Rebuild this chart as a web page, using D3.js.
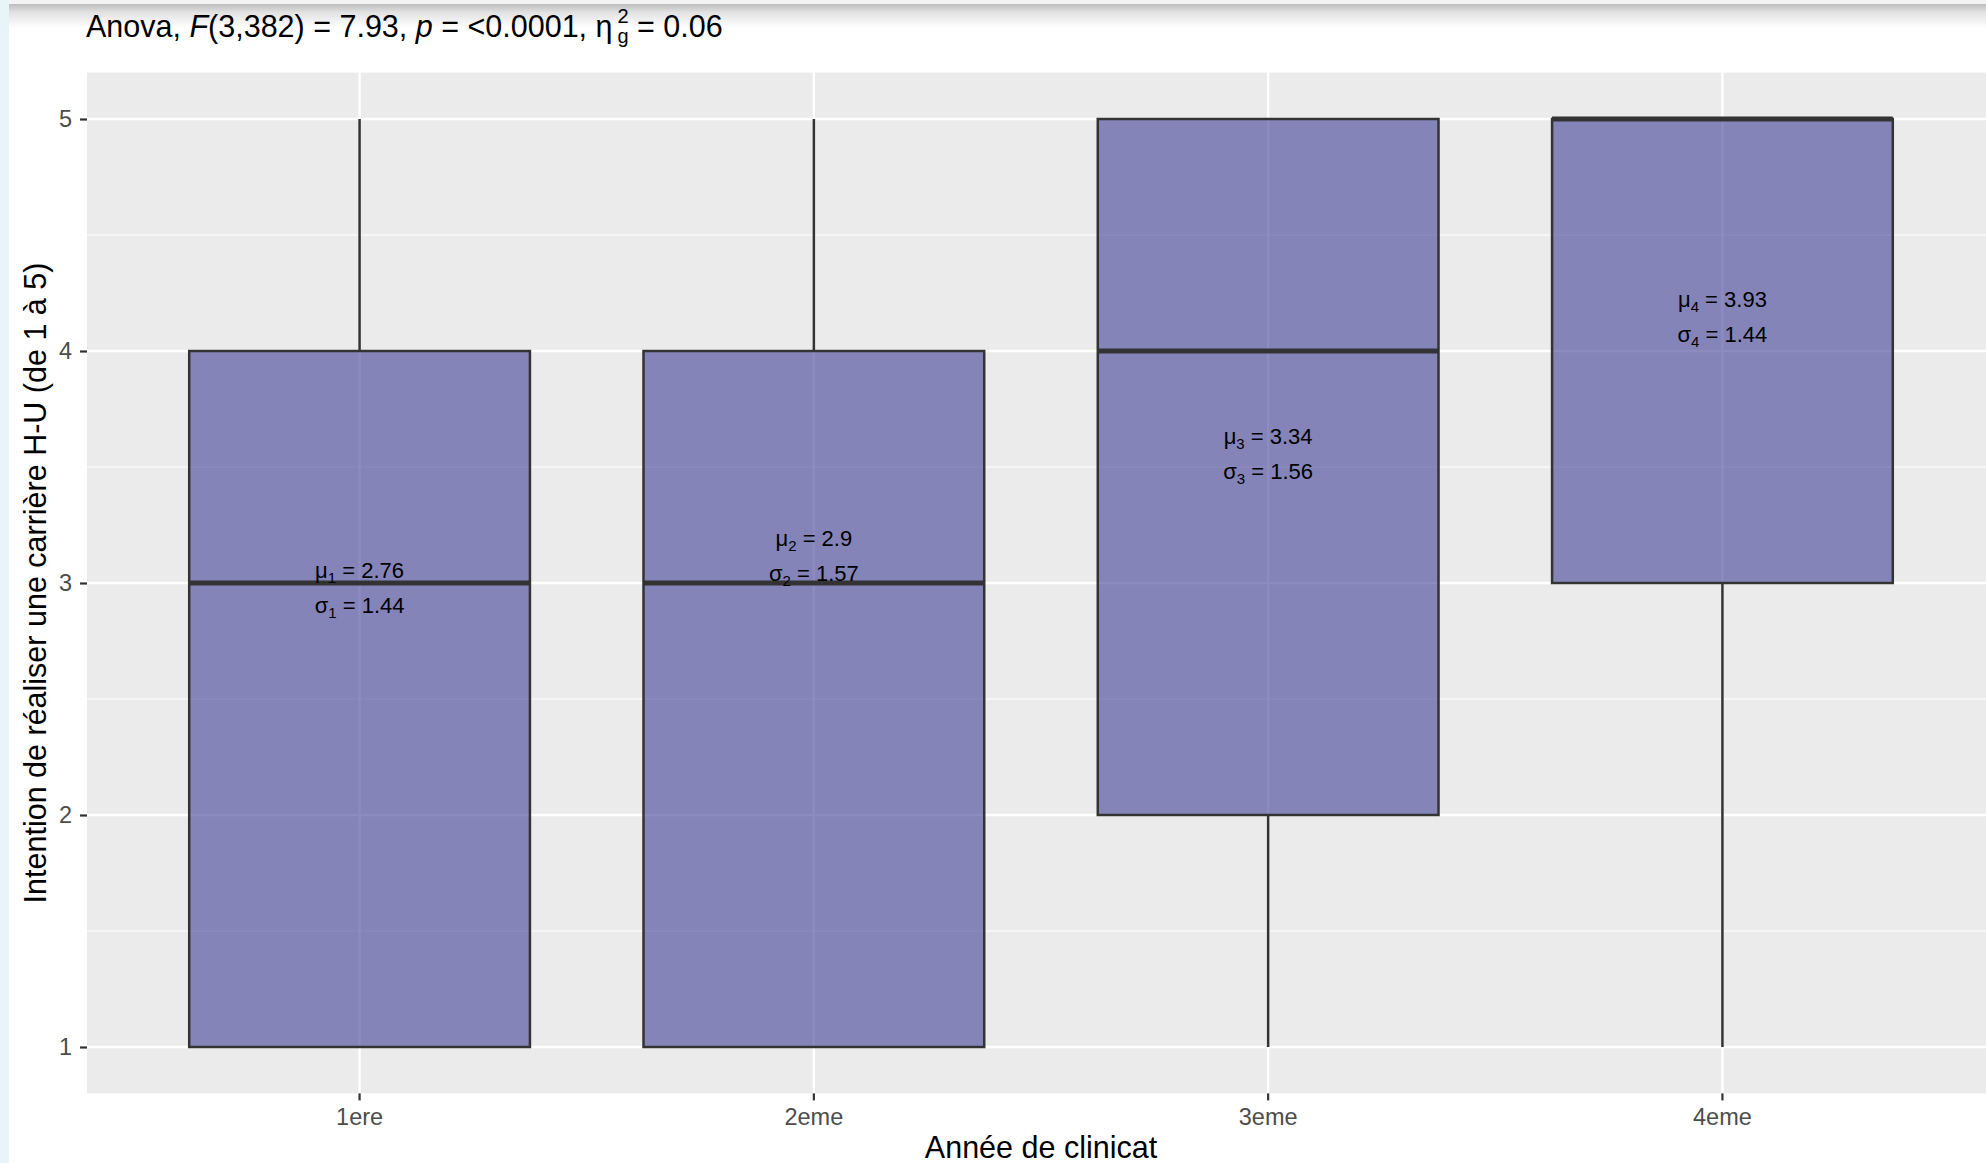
<!DOCTYPE html>
<html>
<head>
<meta charset="utf-8">
<script src="https://cdn.jsdelivr.net/npm/d3@7"></script>
<style>
  html, body { margin: 0; padding: 0; background: #ffffff; overflow: hidden; }
  svg { display: block; font-family: "Liberation Sans", Arial, Helvetica, sans-serif; }
</style>
</head>
<body>
<svg id="chart" width="1986" height="1163"></svg>
<script>
// ---------- data ----------
const categories = ["1ere", "2eme", "3eme", "4eme"];
const whiskerLow  = [1, 1, 1, 1];
const q1Values    = [1, 1, 2, 3];
const medians     = [3, 3, 4, 5];
const q3Values    = [4, 4, 5, 5];
const whiskerHigh = [5, 5, 5, 5];
const means       = [2.76, 2.9, 3.34, 3.93];
const sds         = [1.44, 1.57, 1.56, 1.44];
const meanLabels  = ["2.76", "2.9", "3.34", "3.93"];
const sdLabels    = ["1.44", "1.57", "1.56", "1.44"];
const yTicks      = [1, 2, 3, 4, 5];
const yMinor      = [1.5, 2.5, 3.5, 4.5];
const titleMain   = "Anova, ";
const xTitle      = "Année de clinicat";
const yTitle      = "Intention de réaliser une carrière H-U (de 1 à 5)";

// ---------- layout ----------
const svg = d3.select("#chart");
const W = 1986, H = 1163;
const panel = { left: 87, right: 1995, top: 72.6, bottom: 1093.4 };

// page decorations (screenshot frame)
const defs = svg.append("defs");
const grad = defs.append("linearGradient").attr("id", "topShade")
  .attr("x1", 0).attr("y1", 0).attr("x2", 0).attr("y2", 1);
grad.append("stop").attr("offset", "0%").attr("stop-color", "#bdbdbd");
grad.append("stop").attr("offset", "35%").attr("stop-color", "#e2e2e2");
grad.append("stop").attr("offset", "100%").attr("stop-color", "#ffffff");
svg.append("rect").attr("x", 0).attr("y", 0).attr("width", W).attr("height", H).attr("fill", "#ffffff");
svg.append("rect").attr("x", 9).attr("y", 0).attr("width", W).attr("height", 4).attr("fill", "#f3f3f3");
svg.append("rect").attr("x", 9).attr("y", 4).attr("width", W).attr("height", 24).attr("fill", "url(#topShade)");
svg.append("rect").attr("x", 0).attr("y", 0).attr("width", 9).attr("height", H).attr("fill", "#e8f4f7");

// scales
const x = d3.scaleBand().domain(categories)
  .range([panel.left, panel.right]).paddingInner(0).paddingOuter(0.1);
const cx = c => x(c) + x.bandwidth() / 2;
const y = d3.scaleLinear().domain([0.8, 5.2]).range([panel.bottom, panel.top]);

// panel background
svg.append("rect")
  .attr("x", panel.left).attr("y", panel.top)
  .attr("width", panel.right - panel.left).attr("height", panel.bottom - panel.top)
  .attr("fill", "#ebebeb");

const grid = svg.append("g");
grid.selectAll("line.minor").data(yMinor).join("line")
  .attr("x1", panel.left).attr("x2", panel.right)
  .attr("y1", d => y(d)).attr("y2", d => y(d))
  .attr("stroke", "#ffffff").attr("stroke-width", 1.2);
grid.selectAll("line.majy").data(yTicks).join("line")
  .attr("x1", panel.left).attr("x2", panel.right)
  .attr("y1", d => y(d)).attr("y2", d => y(d))
  .attr("stroke", "#ffffff").attr("stroke-width", 2.4);
grid.selectAll("line.majx").data(categories).join("line")
  .attr("x1", d => cx(d)).attr("x2", d => cx(d))
  .attr("y1", panel.top).attr("y2", panel.bottom)
  .attr("stroke", "#ffffff").attr("stroke-width", 2.4);

// boxes
const boxData = categories.map((c, i) => ({
  c, lo: whiskerLow[i], q1: q1Values[i], med: medians[i], q3: q3Values[i], hi: whiskerHigh[i]
}));
const bw = x.bandwidth() * 0.75;
const boxes = svg.append("g");
boxes.selectAll("line.wlo").data(boxData.filter(d => d.lo < d.q1)).join("line")
  .attr("x1", d => cx(d.c)).attr("x2", d => cx(d.c))
  .attr("y1", d => y(d.lo)).attr("y2", d => y(d.q1))
  .attr("stroke", "#333333").attr("stroke-width", 2.5);
boxes.selectAll("line.whi").data(boxData.filter(d => d.hi > d.q3)).join("line")
  .attr("x1", d => cx(d.c)).attr("x2", d => cx(d.c))
  .attr("y1", d => y(d.hi)).attr("y2", d => y(d.q3))
  .attr("stroke", "#333333").attr("stroke-width", 2.5);
boxes.selectAll("rect").data(boxData).join("rect")
  .attr("x", d => cx(d.c) - bw / 2).attr("width", bw)
  .attr("y", d => y(d.q3)).attr("height", d => y(d.q1) - y(d.q3))
  .attr("fill", "rgb(63,63,150)").attr("fill-opacity", 0.6)
  .attr("stroke", "#333333").attr("stroke-width", 2.5);
boxes.selectAll("line.med").data(boxData).join("line")
  .attr("x1", d => cx(d.c) - bw / 2).attr("x2", d => cx(d.c) + bw / 2)
  .attr("y1", d => y(d.med)).attr("y2", d => y(d.med))
  .attr("stroke", "#333333").attr("stroke-width", 5);

// mean / sd annotations
const ann = svg.append("g").attr("font-size", 22).attr("fill", "#000000").attr("text-anchor", "middle");
categories.forEach((c, i) => {
  const t1 = ann.append("text").attr("x", cx(c)).attr("y", y(means[i]) - 60.5);
  t1.append("tspan").text("μ");
  t1.append("tspan").attr("font-size", 15).attr("dy", 5).text(String(i + 1));
  t1.append("tspan").attr("dy", -5).text(" = " + meanLabels[i]);
  const t2 = ann.append("text").attr("x", cx(c)).attr("y", y(means[i]) - 25.5);
  t2.append("tspan").text("σ");
  t2.append("tspan").attr("font-size", 15).attr("dy", 5).text(String(i + 1));
  t2.append("tspan").attr("dy", -5).text(" = " + sdLabels[i]);
});

// axes
const yAxis = svg.append("g").attr("transform", `translate(${panel.left},0)`)
  .call(d3.axisLeft(y).tickValues(yTicks).tickFormat(d3.format("d")).tickSize(7).tickPadding(8));
yAxis.select(".domain").remove();
yAxis.selectAll(".tick line").attr("stroke", "#333333").attr("stroke-width", 2.2);
yAxis.selectAll(".tick text").attr("fill", "#4d4d4d").attr("font-size", 23.5)
  .attr("font-family", "Liberation Sans, Arial, sans-serif");

const xAxis = svg.append("g").attr("transform", `translate(0,${panel.bottom})`)
  .call(d3.axisBottom(x).tickSize(7).tickPadding(7.5));
xAxis.select(".domain").remove();
xAxis.selectAll(".tick line").attr("stroke", "#333333").attr("stroke-width", 2.2);
xAxis.selectAll(".tick text").attr("fill", "#4d4d4d").attr("font-size", 23.5)
  .attr("font-family", "Liberation Sans, Arial, sans-serif");

// axis titles
svg.append("text").attr("x", (panel.left + panel.right) / 2).attr("y", 1158)
  .attr("text-anchor", "middle").attr("font-size", 30.5).attr("fill", "#000").text(xTitle);
svg.append("text").attr("transform", `translate(46,${(panel.top + panel.bottom) / 2}) rotate(-90)`)
  .attr("text-anchor", "middle").attr("font-size", 30.5).attr("fill", "#000").text(yTitle);

// title (subtitle with test statistics)
const tx = 86, ty = 36.5;
const title = svg.append("text").attr("x", tx).attr("y", ty).attr("font-size", 30.5).attr("fill", "#000")
  .style("white-space", "pre");
title.append("tspan").text(titleMain);
title.append("tspan").attr("font-style", "italic").text("F");
title.append("tspan").text("(3,382) = 7.93, ");
title.append("tspan").attr("font-style", "italic").text("p");
title.append("tspan").text(" = <0.0001, η");
const tw = title.node().getComputedTextLength();
const sx = tx + tw + 5;
svg.append("text").attr("x", sx).attr("y", ty - 14).attr("font-size", 20).attr("fill", "#000").text("2");
svg.append("text").attr("x", sx).attr("y", ty + 6).attr("font-size", 20).attr("fill", "#000").text("g");
svg.append("text").attr("x", sx + 11).attr("y", ty).attr("font-size", 30.5).attr("fill", "#000")
  .style("white-space", "pre").text(" = 0.06");
</script>
</body>
</html>
